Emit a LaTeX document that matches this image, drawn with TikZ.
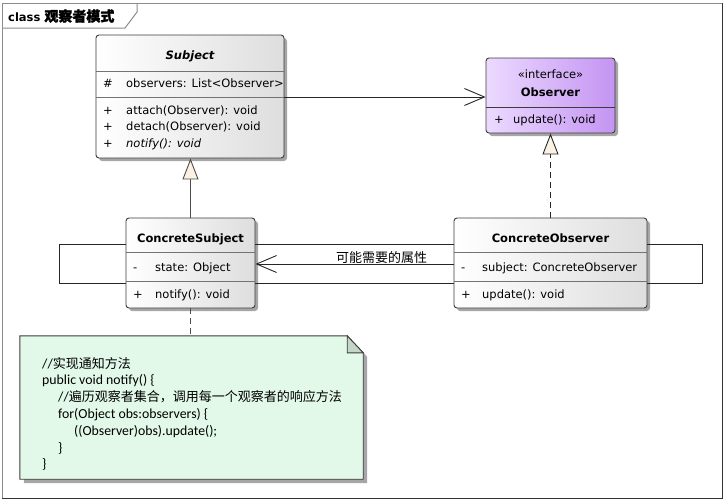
\documentclass[tikz,border=0pt]{standalone}
\usepackage{fontspec}
\setmainfont{DejaVu Sans}
\newfontfamily\cjk{Noto Sans CJK SC}
\newfontfamily\cjkb[FakeBold=1.6]{Noto Sans CJK SC}
\newfontfamily\calfont{Carlito}
\usetikzlibrary{arrows.meta,shadows}
\newcommand{\zh}[1]{{\cjk\fontsize{13}{16}\selectfont #1}}
\definecolor{edge}{RGB}{60,60,60}
\definecolor{clsgray}{RGB}{222,222,222}
\definecolor{ifL}{RGB}{236,218,255}
\definecolor{ifR}{RGB}{196,148,242}
\definecolor{cream}{RGB}{251,242,228}
\definecolor{notegreen}{RGB}{226,248,232}
\definecolor{foldgreen}{RGB}{196,214,200}
\definecolor{framegray}{RGB}{140,140,140}
\tikzset{
 cls/.style={rectangle, rounded corners=3pt, draw=edge, line width=0.9pt, left color=white, right color=clsgray, inner sep=0,
   drop shadow={shadow xshift=3pt, shadow yshift=-3pt, fill=black!35, opacity=1, rounded corners=3pt}},
 iface/.style={cls, left color=ifL, right color=ifR},
 div/.style={draw=black!55, line width=0.9pt},
 txt/.style={anchor=base west, inner sep=0, font=\fontsize{11.5}{13}\selectfont},
 ttl/.style={anchor=base, inner sep=0, font=\fontsize{11.5}{13}\selectfont\bfseries},
 code/.style={anchor=base west, inner sep=0, font=\fontsize{13.8}{16}\calfont},
 conn/.style={draw=black!85, line width=0.9pt},
 openarrow/.style={-{Straight Barb[length=20pt,width=17pt]}},
 gen/.style={-{Triangle[length=21pt,width=16pt,fill=cream]}},
}
\begin{document}
\begin{tikzpicture}[x=1pt,y=-1pt]
\useasboundingbox (0,0) rectangle (724,501);
% frame
\draw[framegray, line width=1pt] (2,3) rectangle (722,498);
\draw[black!80, line width=1pt] (722,3) -- (722,498) -- (2,498);
\draw[framegray, line width=1pt] (2,28) -- (125,28) -- (137,12) -- (137,3);
\node[anchor=west, inner sep=0, font=\fontsize{11.5}{13}\selectfont\bfseries] (title) at (8,16) {class {\cjkb\fontsize{14}{16}\selectfont 观察者模式}};

% Subject
\node[cls, minimum width=188pt, minimum height=123pt] (subject) at (190,96.5) {};
\draw[div] (96,71) -- (284,71);
\draw[div] (96,97) -- (284,97);
\node[ttl, font=\fontsize{11.5}{13}\selectfont\bfseries\itshape] (subjectname) at (190,59) {Subject};
\node[txt] (s1a) at (103,87) {\#};
\node[txt] (s1b) at (126,87) {observers: List<Observer>};
\node[txt] (s2a) at (103,114) {+};
\node[txt] (s2b) at (126,114) {attach(Observer): void};
\node[txt] (s3a) at (103,130.5) {+};
\node[txt] (s3b) at (126,130.5) {detach(Observer): void};
\node[txt] (s4a) at (103,147) {+};
\node[txt, font=\fontsize{11.5}{13}\selectfont\itshape] (s4b) at (126,147) {notify(): void};

% Observer
\node[iface, minimum width=129pt, minimum height=75pt] (observer) at (550.5,95.5) {};
\draw[div, draw=edge] (486,107) -- (615,107);
\node[txt, anchor=base] (stereo) at (550.5,78) {«interface»};
\node[ttl] (observername) at (550.5,96) {Observer};
\node[txt] (o1a) at (494,123.5) {+};
\node[txt] (o1b) at (513,123.5) {update(): void};

% ConcreteSubject
\node[cls, minimum width=129pt, minimum height=90pt] (cs) at (190.5,263) {};
\draw[div] (126,252) -- (255,252);
\draw[div] (126,281) -- (255,281);
\node[ttl] (csname) at (190.5,242.5) {ConcreteSubject};
\node[txt] (c1a) at (133,271) {-};
\node[txt] (c1b) at (155,271) {state: Object};
\node[txt] (c2a) at (133,298.5) {+};
\node[txt] (c2b) at (155,298.5) {notify(): void};

% ConcreteObserver
\node[cls, minimum width=193pt, minimum height=90pt] (co) at (550.5,263) {};
\draw[div] (454,252) -- (647,252);
\draw[div] (454,281) -- (647,281);
\node[ttl] (coname) at (550.5,242.5) {ConcreteObserver};
\node[txt] (d1a) at (461,271) {-};
\node[txt] (d1b) at (482,271) {subject: ConcreteObserver};
\node[txt] (d2a) at (461,298.5) {+};
\node[txt] (d2b) at (482,298.5) {update(): void};

% Note
\node[minimum width=343pt, minimum height=143pt, inner sep=0] (note) at (191.5,407.5) {};
\fill[black!35] ([xshift=4pt,yshift=-4pt]note.north west) -- ([xshift=-12pt,yshift=-4pt]note.north east)
  -- ([xshift=4pt,yshift=-21pt]note.north east) -- ([xshift=4pt,yshift=-4pt]note.south east)
  -- ([xshift=4pt,yshift=-4pt]note.south west) -- cycle;
\draw[edge, line width=0.9pt, fill=notegreen] (note.north west) -- ([xshift=-16pt]note.north east)
  -- ([yshift=-17pt]note.north east) -- (note.south east) -- (note.south west) -- cycle;
\draw[edge, line width=0.9pt, fill=foldgreen] ([xshift=-16pt]note.north east) -- ([xshift=-16pt,yshift=-17pt]note.north east)
  -- ([yshift=-17pt]note.north east) -- cycle;
\node[code] (n1) at (42,368) {//\zh{实现通知方法}};
\node[code] (n2) at (42,384.8) {public void notify() \{};
\node[code] (n3) at (58,401.6) {//\zh{遍历观察者集合，调用每一个观察者的响应方法}};
\node[code] (n4) at (58,418.4) {for(Object obs:observers) \{};
\node[code] (n5) at (74,435.2) {((Observer)obs).update();};
\node[code] (n6) at (58,452) {\}};
\node[code] (n7) at (42,468.8) {\}};

% connectors
\draw[conn, openarrow] (subject.east |- 0,97) -- (observer.west |- 0,97);
\draw[conn, draw=black!70, gen] (cs.north) -- (cs.north |- subject.south);
\draw[conn, gen, dash pattern=on 6pt off 4pt] (co.north) -- (co.north |- observer.south);
\draw[conn, draw=black!70, dash pattern=on 6pt off 4pt] (cs.south) -- (cs.south |- note.north);
% self loops and associations
\draw[conn] (cs.west |- 0,244) -- (59,244) -- (59,283) -- (cs.west |- 0,283);
\draw[conn] (co.east |- 0,244) -- (702,244) -- (702,283) -- (co.east |- 0,283);
\draw[conn] (cs.east |- 0,244) -- (co.west |- 0,244);
\draw[conn] (cs.east |- 0,283) -- (co.west |- 0,283);
\draw[conn, openarrow] (co.west |- 0,264) -- (cs.east |- 0,264);
\node[inner sep=0] (lbl) at (381.5,257.5) {\zh{可能需要的属性}};
\end{tikzpicture}
\end{document}
